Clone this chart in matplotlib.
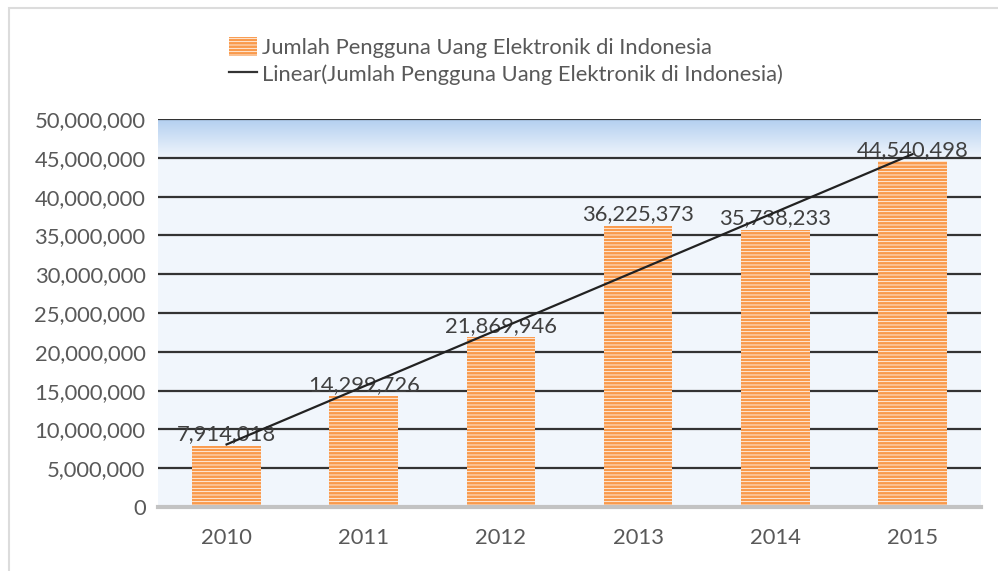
import numpy as np
import matplotlib.pyplot as plt
from matplotlib.patches import Rectangle
from matplotlib.lines import Line2D
from matplotlib.ticker import FuncFormatter
from matplotlib.colors import LinearSegmentedColormap

plt.rcParams['font.family'] = ['Lato', 'DejaVu Sans']
plt.rcParams['hatch.linewidth'] = 0.55

# data
years = ['2010', '2011', '2012', '2013', '2014', '2015']
users = [7914018, 14299726, 21869946, 36225373, 35738233, 44540498]
series_name = 'Jumlah Pengguna Uang Elektronik di Indonesia'
trend_name = 'Linear(Jumlah Pengguna Uang Elektronik di Indonesia)'

txt = '#595959'
orange = '#f99a4c'
fs = 15.8

fig = plt.figure(figsize=(9.98, 5.71), dpi=100)
ax = fig.add_axes([158 / 998, 1 - 507 / 571, (981 - 158) / 998, (507 - 119) / 571])

# outer frame
fig.patches.append(Rectangle((9 / 998, -0.1), 1.2, 1 - 7.5 / 571 + 0.1, transform=fig.transFigure,
                             fill=False, edgecolor='#dcdcdc', linewidth=1.5))

x = np.arange(len(years))
ax.set_xlim(-0.5, len(years) - 0.5)
ax.set_ylim(0, 50000000)

# background + gradient strip at top
ax.set_facecolor('#f1f6fc')
grad = np.linspace(0, 1, 100).reshape(-1, 1)
cmap = LinearSegmentedColormap.from_list('g', ['#f1f6fc', '#b3cff0'])
ax.imshow(grad, cmap=cmap, aspect='auto', extent=(-0.5, len(years) - 0.5, 45000000, 50000000),
          origin='lower', zorder=0)

ax.set_yticks(np.arange(0, 50000001, 5000000))
ax.yaxis.set_major_formatter(FuncFormatter(lambda v, p: f'{int(v):,}'))
ax.grid(axis='y', color='#333333', linewidth=1.6, zorder=1)
ax.set_axisbelow(True)

bars = ax.bar(x, users, width=0.5, color=orange, edgecolor='white', hatch='-----',
              linewidth=0, zorder=2, label=series_name)

for xi, v in zip(x, users):
    ax.annotate(f'{v:,}', (xi, v), xytext=(0, 1), textcoords='offset points',
                ha='center', va='bottom', fontsize=fs, color='#404040', zorder=3)

# linear trend
coef = np.polyfit(x, users, 1)
ax.plot(x[[0, -1]], np.polyval(coef, x[[0, -1]]), color='#222222', linewidth=1.6, zorder=4,
        label=trend_name)

ax.set_xticks(x)
ax.set_xticklabels(years)
ax.tick_params(axis='both', length=0, labelsize=fs, labelcolor=txt)
ax.tick_params(axis='x', pad=15)
ax.tick_params(axis='y', pad=9)
for s in ['left', 'right', 'top']:
    ax.spines[s].set_visible(False)
ax.spines['bottom'].set_color('#c3c3c3')
ax.spines['bottom'].set_linewidth(3)
ax.spines['bottom'].set_zorder(5)

handles = [Rectangle((0, 0), 1, 1, facecolor=orange, edgecolor='white', hatch='-----', linewidth=0),
           Line2D([0], [0], color='#333333', linewidth=1.6)]
fig.legend(handles, [series_name, trend_name], loc='upper left',
           bbox_to_anchor=(220 / 998, 1 - 28 / 571), frameon=False, fontsize=fs,
           labelcolor=txt, handlelength=1.3, handleheight=1.0, handletextpad=0.2,
           labelspacing=0.25, borderaxespad=0)

fig.savefig('out.png', dpi=100)
